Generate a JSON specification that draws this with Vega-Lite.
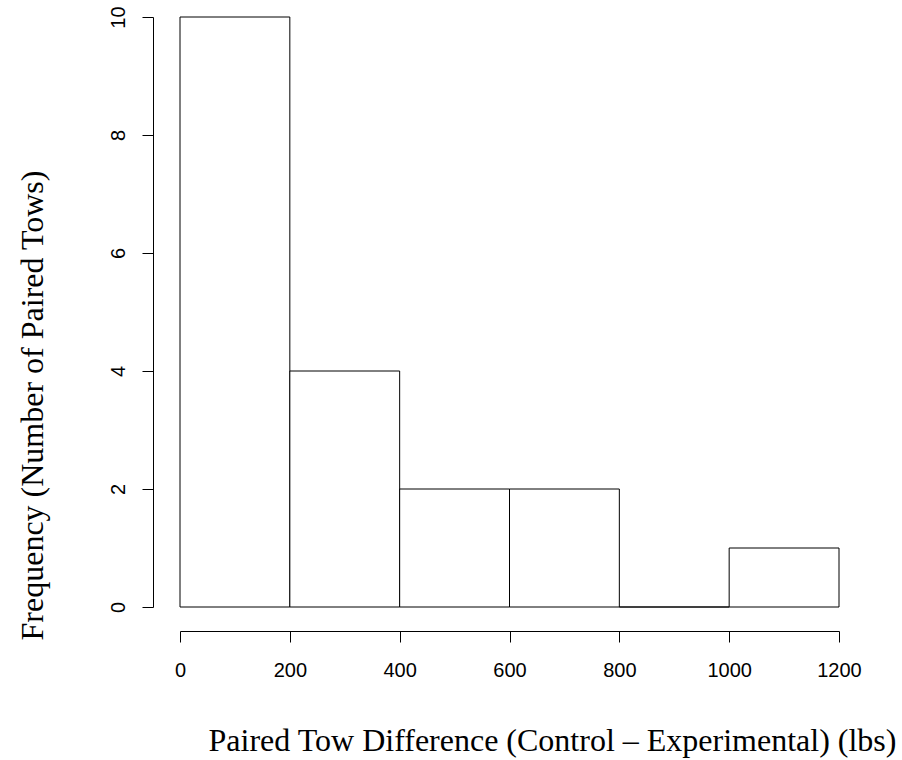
{
  "$schema": "https://vega.github.io/schema/vega-lite/v6.json",
  "width": 659,
  "height": 590,
  "autosize": {"type": "none"},
  "padding": {"left": 180, "top": 17, "right": 63, "bottom": 153},
  "background": "white",
  "config": {
    "view": {"stroke": null},
    "axis": {
      "grid": false,
      "domainColor": "black",
      "tickColor": "black",
      "domainWidth": 1,
      "tickWidth": 1,
      "tickSize": 11,
      "labelFont": "Liberation Sans",
      "labelFontSize": 20,
      "labelColor": "black",
      "titleFont": "Liberation Serif",
      "titleFontSize": 32,
      "titleFontWeight": "normal",
      "titleColor": "black"
    }
  },
  "data": {
    "values": [
      {"bin_start": 0, "bin_end": 200, "count": 10},
      {"bin_start": 200, "bin_end": 400, "count": 4},
      {"bin_start": 400, "bin_end": 600, "count": 2},
      {"bin_start": 600, "bin_end": 800, "count": 2},
      {"bin_start": 800, "bin_end": 1000, "count": 0},
      {"bin_start": 1000, "bin_end": 1200, "count": 1}
    ]
  },
  "mark": {"type": "rect", "fill": "white", "stroke": "black", "strokeWidth": 1},
  "encoding": {
    "x": {
      "field": "bin_start",
      "type": "quantitative",
      "scale": {"domain": [0, 1200], "nice": false, "zero": false},
      "axis": {
        "title": "Paired Tow Difference (Control – Experimental) (lbs)",
        "values": [0, 200, 400, 600, 800, 1000, 1200],
        "format": "d",
        "offset": 24,
        "labelPadding": 18,
        "labelFlush": false,
        "labelOverlap": false,
        "titleAlign": "center",
        "titleBaseline": "alphabetic",
        "titleX": 372,
        "titleY": 119
      }
    },
    "x2": {"field": "bin_end"},
    "y": {
      "field": "count",
      "type": "quantitative",
      "scale": {"domain": [0, 10], "nice": false},
      "axis": {
        "title": "Frequency (Number of Paired Tows)",
        "values": [0, 2, 4, 6, 8, 10],
        "format": "d",
        "offset": 27,
        "labelAngle": -90,
        "labelAlign": "center",
        "labelBaseline": "bottom",
        "labelPadding": 14,
        "labelFlush": false,
        "labelOverlap": false,
        "titleAngle": -90,
        "titleAlign": "center",
        "titleBaseline": "alphabetic",
        "titleX": -111,
        "titleY": 388
      }
    },
    "y2": {"datum": 0}
  }
}
